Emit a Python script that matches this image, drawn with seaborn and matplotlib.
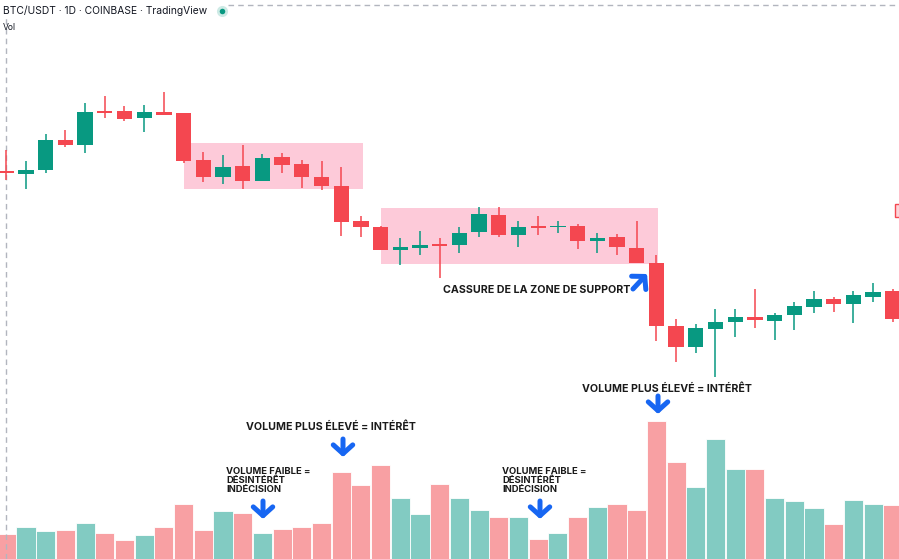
import matplotlib
matplotlib.use("Agg")
import matplotlib.pyplot as plt
from matplotlib.patches import Rectangle
import seaborn as sns
import numpy as np
import pandas as pd

# ---------------- data (arbitrary price units) ----------------
opens = [387.5, 385, 389, 419, 414, 448, 447.7, 440.7, 447, 445.7,
         399, 382.3, 393, 378.3, 401.7, 395, 382, 373.3, 338, 332.3,
         309, 311.3, 314.7, 313.7, 326.7, 344, 324, 332.3, 331.7, 333,
         318.3, 321.7, 310.7, 295.7, 233.3, 212.3, 230, 236.7, 241.7, 238,
         243.7, 252.3, 259.7, 255, 262.3, 268]
highs = [409, 398.3, 425, 429, 455.7, 463, 453, 454.3, 466.7, 446,
         407.3, 404, 414, 405, 405.7, 399, 398, 391.7, 343, 333,
         321.3, 328, 321, 332.3, 351.7, 351.7, 338, 343, 338.3, 334.7,
         326.3, 325, 338.3, 304, 239.7, 235, 250, 250, 270, 245.7,
         257.3, 268.3, 262.3, 268.3, 275.7, 269.7]
lows = [379, 369.7, 385.7, 411.7, 406.3, 441.3, 437.7, 427.3, 444, 395.7,
        377.3, 374.7, 370.3, 378.3, 385.7, 371.3, 368.7, 323, 322.3, 309,
        294, 304, 280.7, 305.7, 322.3, 321.7, 312.3, 324, 325.7, 309.7,
        306.3, 304, 295.7, 218.3, 197.3, 206.3, 181.7, 222.3, 230.7, 219,
        229, 246.3, 247.3, 236.3, 257.3, 237.3]
closes = [386, 389, 419, 414, 447, 446.5, 440.3, 447, 444.3, 398,
          382.3, 392, 378.3, 401.3, 394.3, 382, 373, 337.3, 332.3, 309,
          311.7, 314, 313.3, 326.3, 344.7, 324, 332, 331.3, 333, 318.3,
          321.3, 311.7, 295.7, 233, 212.3, 230.7, 236.7, 241.7, 239, 244,
          253, 259.7, 255, 263.7, 267, 240]
volumes = [25, 31.7, 28, 28.7, 36.3, 25.7, 19, 24, 32.3, 55,
           29, 48, 46.3, 25.7, 29.7, 31.7, 36.3, 87, 74, 94,
           61.3, 44.7, 74.7, 60.7, 49, 42, 42, 20, 25.7, 42.3,
           52, 54.7, 49, 138, 96.7, 72.3, 120, 90, 90, 61.3,
           58.3, 50.7, 35, 59, 55, 54]

# support / consolidation zones: (first candle, last candle, low, high)
zone_x0 = [9.02, 19.02]
zone_x1 = [18.09, 33.08]
zone_lo = [370.3, 295.0]
zone_hi = [416.5, 351.3]

title_text = "BTC/USDT · 1D · COINBASE · TradingView"
label_break = "CASSURE DE LA ZONE DE SUPPORT"
label_high = "VOLUME PLUS ÉLEVÉ = INTÉRÊT"
label_low = "VOLUME FAIBLE =\nDÉSINTÉRÊT\nINDÉCISION"

# ---------------- styling ----------------
UP = "#089981"
DOWN = "#F44750"
UP_VOL = "#82CBC2"
DOWN_VOL = "#F8A0A3"
ZONE = "#FDCAD9"
BLUE = "#1766F2"
TXT = "#131722"

W, H = 899, 559
n = len(opens)
idx = np.arange(n)
direction = np.where(np.array(closes) >= np.array(opens), "up", "down")
df = pd.DataFrame({"idx": idx, "volume": volumes, "dir": direction})

sns.set_theme(style="white")
plt.rcParams["font.family"] = ["Inter", "DejaVu Sans"]

fig = plt.figure(figsize=(W / 100, H / 100), dpi=100)
ax = fig.add_axes([0, 0, 1, 1])
ax2 = ax.twinx()

# volume bars (seaborn)
sns.barplot(data=df, x="idx", y="volume", hue="dir",
            palette={"up": UP_VOL, "down": DOWN_VOL}, dodge=False,
            width=0.97, legend=False, ax=ax2, saturation=1,
            edgecolor="white", linewidth=0.6)
ax2.set_ylim(0, H)

x_lo = -6.3 / 19.7
x_hi = x_lo + W / 19.7
for a in (ax, ax2):
    a.set_xlim(x_lo, x_hi)
    a.axis("off")
ax.set_ylim(0, H)

# put candles above volume
ax.set_zorder(ax2.get_zorder() + 1)
ax.patch.set_visible(False)

# zones
for x0, x1, lo, hi in zip(zone_x0, zone_x1, zone_lo, zone_hi):
    ax.add_patch(Rectangle((x0, lo), x1 - x0, hi - lo, facecolor=ZONE,
                           edgecolor="none", zorder=1))

# candles
for i in range(n):
    o, h, l, c = opens[i], highs[i], lows[i], closes[i]
    col = UP if c >= o else DOWN
    ax.vlines(i, l, h, color=col, linewidth=1.1, zorder=3)
    bottom = min(o, c)
    height = max(abs(c - o), 1.6)
    if abs(c - o) < 1.6:
        bottom = (o + c) / 2 - 0.8
    ax.bar(i, height, bottom=bottom, width=0.78, color=col, zorder=4,
           linewidth=0)

# crosshair lines
ax.axvline(0, ymin=0, ymax=1 - 18 / H, color="#B2B5BE", linewidth=1,
           linestyle=(0, (4, 3)), zorder=2)
ax.axhline(H - 5, xmin=228 / W, xmax=1, color="#B2B5BE", linewidth=1,
           linestyle=(0, (4, 3)), zorder=2)

# right edge price label stub
ax.add_patch(Rectangle((895 / W, 1 - 217 / H), 6 / W, 13 / H,
                       transform=ax.transAxes, facecolor="#FCD5DA",
                       edgecolor=DOWN, linewidth=1, zorder=5))


def P(x, y):
    return (x / W, 1 - y / H)


# header
ax.text(*P(3, 11), title_text, transform=ax.transAxes, fontsize=7.4,
        color=TXT, va="center", ha="left")
ax.plot(*P(221.5, 11), marker="o", markersize=8, color="#CDEAE5",
        markeredgewidth=0, transform=ax.transAxes, zorder=5)
ax.plot(*P(221.5, 11), marker="o", markersize=4, color=UP,
        markeredgewidth=0, transform=ax.transAxes, zorder=6)
ax.text(*P(3, 27), "Vol", transform=ax.transAxes, fontsize=6.2,
        color=TXT, va="center", ha="left")

# annotations
bold = dict(transform=ax.transAxes, color="#1A1A1A", fontweight="bold",
            ha="left")
ax.text(*P(443, 293), label_break, fontsize=7.7, va="baseline", **bold)
ax.text(*P(582, 392.5), label_high, fontsize=7.65, va="baseline", **bold)
ax.text(*P(246, 430.5), label_high, fontsize=7.65, va="baseline", **bold)
ax.text(*P(226, 467), label_low, fontsize=6.8, va="top", linespacing=1.0,
        **bold)
ax.text(*P(502, 467), label_low, fontsize=6.8, va="top", linespacing=1.0,
        **bold)

arrow_kw = dict(arrowstyle="->,head_length=0.45,head_width=0.5",
                color=BLUE, lw=3.6, mutation_scale=14,
                shrinkA=0, shrinkB=0, capstyle="round", joinstyle="round")
for (x0, y0), (x1, y1) in [((633, 289), (647, 274)),
                           ((658, 396), (658, 414)),
                           ((343, 439), (343, 457)),
                           ((263, 501), (263, 519)),
                           ((540, 501), (540, 519))]:
    ax.annotate("", xy=P(x1, y1), xytext=P(x0, y0),
                xycoords="axes fraction", textcoords="axes fraction",
                arrowprops=arrow_kw, zorder=6)

fig.savefig("out.png", dpi=100, facecolor="white")
